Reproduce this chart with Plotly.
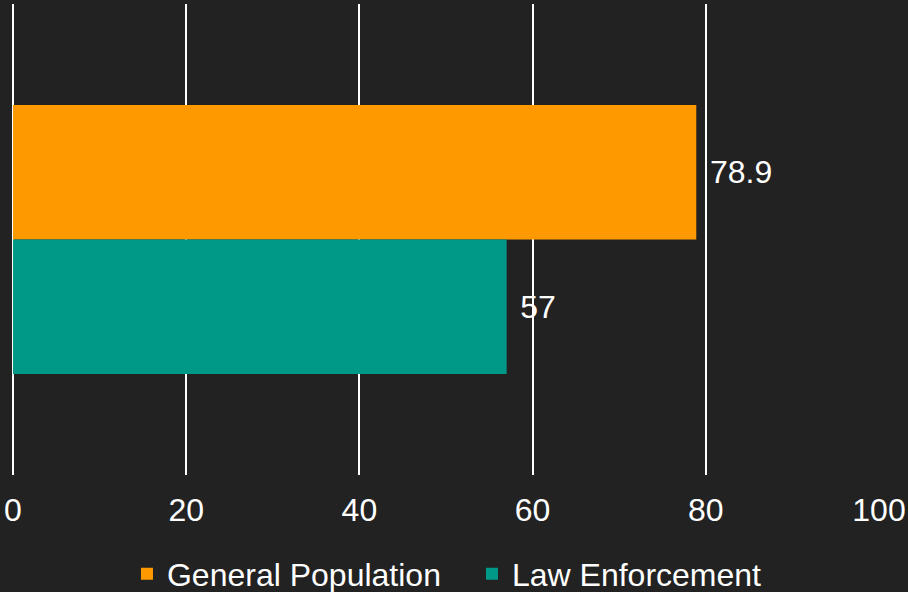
import plotly.graph_objects as go

series_names = ["General Population", "Law Enforcement"]
values = [78.9, 57]
colors = ["#FF9900", "#009988"]
category = [""]
x_ticks = [0, 20, 40, 60, 80, 100]

FONT = "Liberation Sans, Arial, sans-serif"

fig = go.Figure()
for name, val, col in zip(series_names, values, colors):
    fig.add_trace(go.Bar(
        name=name,
        x=[val],
        y=category,
        orientation="h",
        marker=dict(color=col, line=dict(width=0)),
        text=[val],
        texttemplate="\u2004%{x}",
        textposition="outside",
        textfont=dict(color="white", size=32, family=FONT),
        cliponaxis=False,
    ))

fig.update_layout(
    width=908, height=592,
    paper_bgcolor="#222222",
    plot_bgcolor="#222222",
    barmode="group",
    bargap=0.429,
    margin=dict(l=13, r=29, t=4, b=117, autoexpand=False),
    font=dict(family=FONT, color="white", size=32),
    xaxis=dict(
        range=[0, 100],
        tickvals=x_ticks,
        showgrid=True, gridcolor="white", gridwidth=2,
        zeroline=True, zerolinecolor="white", zerolinewidth=2,
        showline=False, ticks="",
        ticklabelstandoff=13,
        tickfont=dict(size=32, color="white", family=FONT),
    ),
    yaxis=dict(
        autorange="reversed",
        showticklabels=False, showgrid=False, zeroline=False,
        showline=False, ticks="",
    ),
    legend=dict(
        orientation="h",
        x=0.53, xanchor="center",
        y=-0.21, yanchor="middle",
        font=dict(size=32, color="white", family=FONT),
        itemwidth=30,
        entrywidth=300,
        bgcolor="rgba(0,0,0,0)",
    ),
    showlegend=True,
)

fig.write_html("out.html")
